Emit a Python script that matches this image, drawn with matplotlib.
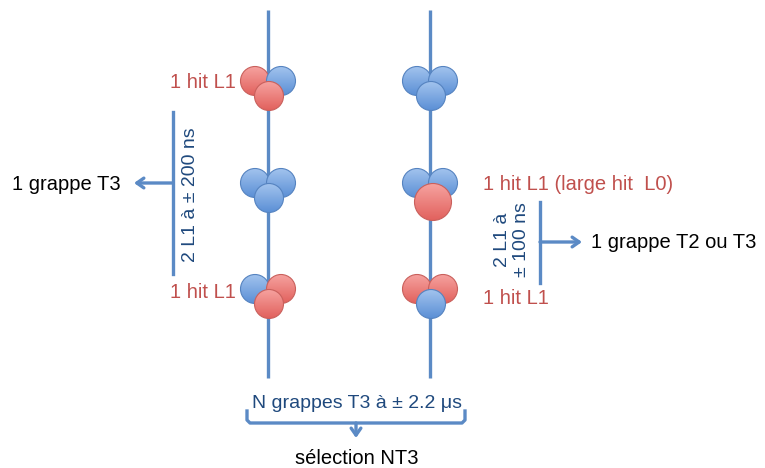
import numpy as np
import matplotlib.pyplot as plt
from matplotlib.patches import Circle
from matplotlib.colors import LinearSegmentedColormap

plt.rcParams['font.family'] = ['Liberation Sans', 'DejaVu Sans']

# diagram content, in picture pixels (x right, y down)
track_x = [268, 430]
track_top, track_bottom = 10, 378
cluster_y = [81, 183, 289]
# colours of (top-left, top-right, bottom) per cluster, per track
cluster_colors = [
    [['r', 'b', 'r'], ['b', 'b', 'b'], ['b', 'r', 'r']],
    [['b', 'b', 'b'], ['b', 'b', 'R'], ['r', 'r', 'b']],
]
red_labels = [
    (236, 82, '1 hit L1', 'right'),
    (236, 292, '1 hit L1', 'right'),
    (483, 185, '1 hit L1 (large hit  L0)', 'left'),
    (483, 299, '1 hit L1', 'left'),
]
left_window = '2 L1 à ± 200 ns'
right_window = '2 L1 à\n± 100 ns'
left_result = '1 grappe T3'
right_result = '1 grappe T2 ou T3'
bottom_window = 'N grappes T3 à ± 2.2 μs'
bottom_result = 'sélection NT3'

LINE = '#5b8ac5'
RED_TXT = '#c0504d'
BLUE_TXT = '#1f497d'
# (top colour, bottom colour, edge)
FILL = {'r': ('#f6a3a0', '#e2625e', '#c9605c'),
        'b': ('#a3c4ee', '#5c90d6', '#5583c0')}
grad = np.linspace(0, 1, 64).reshape(-1, 1)

fig = plt.figure(figsize=(7.65, 4.68), dpi=100)
ax = fig.add_axes([0, 0, 1, 1])
ax.set_xlim(0, 765)
ax.set_ylim(468, 0)
ax.axis('off')

z = [2.0]


def ball(x, y, r, c):
    top, bottom, edge = FILL[c]
    cmap = LinearSegmentedColormap.from_list(c, [top, bottom])
    z[0] += 0.01
    clip = Circle((x, y), r, facecolor='none', edgecolor=edge, lw=0.8, zorder=z[0] + 0.005)
    ax.add_patch(clip)
    im = ax.imshow(grad, cmap=cmap, extent=(x - r, x + r, y + r, y - r),
                   origin='upper', aspect='auto', zorder=z[0], interpolation='bilinear')
    im.set_clip_path(clip)


for tx, clusters in zip(track_x, cluster_colors):
    ax.plot([tx, tx], [track_top, track_bottom], color=LINE, lw=2.4, zorder=1,
            solid_capstyle='butt')
    for cy, cols in zip(cluster_y, clusters):
        ball(tx - 13, cy, 14.5, cols[0])
        ball(tx + 13, cy, 14.5, cols[1])
        if cols[2] == 'R':
            ball(tx + 3, cy + 19, 18.5, 'r')
        else:
            ball(tx + 1, cy + 15, 14.5, cols[2])

for x, y, s, ha in red_labels:
    ax.text(x, y, s, color=RED_TXT, fontsize=14.5, ha=ha, va='center')

arrow = dict(arrowstyle='->,head_length=0.5,head_width=0.35', color=LINE, lw=2.4,
             shrinkA=0, shrinkB=0)

# left bracket
ax.plot([173, 173], [112, 274], color=LINE, lw=2.4)
ax.annotate('', xy=(134, 183), xytext=(173, 183), arrowprops=arrow)
ax.text(12, 184, left_result, fontsize=14.5, ha='left', va='center')
ax.text(191, 195, left_window, color=BLUE_TXT, fontsize=14, rotation=90,
        ha='center', va='center')

# right bracket
ax.plot([540, 540], [202, 283], color=LINE, lw=2.4)
ax.annotate('', xy=(582, 242), xytext=(540, 242), arrowprops=arrow)
ax.text(591, 243, right_result, fontsize=14.5, ha='left', va='center')
ax.text(512, 240, right_window, color=BLUE_TXT, fontsize=14, rotation=90,
        ha='center', va='center', linespacing=1.1, multialignment='center')

# bottom bracket
ax.text(357, 404, bottom_window, color=BLUE_TXT, fontsize=14, ha='center', va='center')
ax.plot([247, 247, 250, 462, 465, 465], [411, 420, 423, 423, 420, 411],
        color=LINE, lw=2.4, solid_joinstyle='round')
ax.annotate('', xy=(356, 438), xytext=(356, 423), arrowprops=arrow)
ax.text(357, 458, bottom_result, fontsize=14.5, ha='center', va='center')

fig.savefig('out.png', dpi=100)
